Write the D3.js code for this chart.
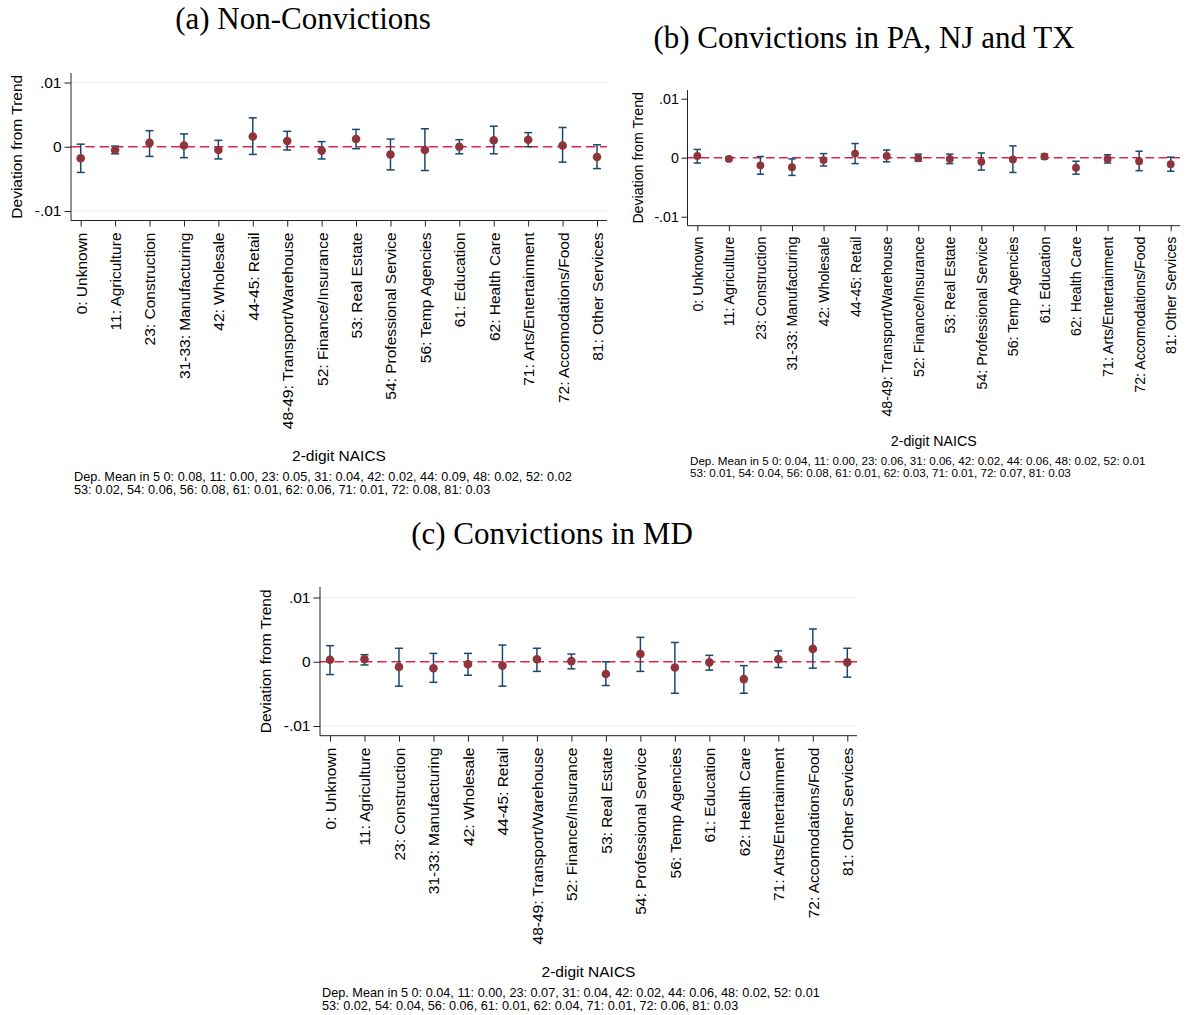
<!DOCTYPE html>
<html>
<head>
<meta charset="utf-8">
<script src="https://cdn.jsdelivr.net/npm/d3@7"></script>
<style>
  html, body { margin: 0; padding: 0; background: #fff; }
  svg { display: block; }
  text { font-family: "Liberation Sans", Arial, sans-serif; fill: #000; }
  .title { font-family: "Liberation Serif", "Times New Roman", serif; }
</style>
</head>
<body>
<svg id="chart" width="1189" height="1015"></svg>
<script>
// Industry categories (2-digit NAICS)
const categories = [
  "0: Unknown", "11: Agriculture", "23: Construction", "31-33: Manufacturing",
  "42: Wholesale", "44-45: Retail", "48-49: Transport/Warehouse", "52: Finance/Insurance",
  "53: Real Estate", "54: Professional Service", "56: Temp Agencies", "61: Education",
  "62: Health Care", "71: Arts/Entertainment", "72: Accomodations/Food", "81: Other Services"
];
const naicsCodes = ["0", "11", "23", "31", "42", "44", "48", "52", "53", "54", "56", "61", "62", "71", "72", "81"];

// Y-axis ticks
const yTickValues = [-0.01, 0, 0.01];
const yTickLabels = ["-.01", "0", ".01"];

// (a) Non-Convictions: estimates and 95% CI bounds
const coefA = [-0.0018, -0.0005, 0.0006, 0.0002, -0.0005, 0.0016, 0.0009, -0.0006, 0.0012, -0.0012, -0.0005, 0.0000, 0.0010, 0.0011, 0.0002, -0.0016];
const loA   = [-0.0040, -0.0011, -0.0015, -0.0017, -0.0019, -0.0012, -0.0005, -0.0019, -0.0003, -0.0036, -0.0037, -0.0011, -0.0011, 0.0000, -0.0024, -0.0034];
const hiA   = [0.0004, 0.0001, 0.0025, 0.0020, 0.0010, 0.0045, 0.0024, 0.0008, 0.0027, 0.0012, 0.0028, 0.0011, 0.0032, 0.0022, 0.0030, 0.0003];
const meanA = ["0.08", "0.00", "0.05", "0.04", "0.02", "0.09", "0.02", "0.02", "0.02", "0.06", "0.08", "0.01", "0.06", "0.01", "0.08", "0.03"];

// (b) Convictions in PA, NJ and TX
const coefB = [0.0003, -0.0002, -0.0013, -0.0016, -0.0004, 0.0007, 0.0003, -0.0001, -0.0002, -0.0007, -0.0003, 0.0002, -0.0017, -0.0002, -0.0006, -0.0011];
const loB   = [-0.0009, -0.0004, -0.0028, -0.0030, -0.0014, -0.0010, -0.0007, -0.0006, -0.0010, -0.0021, -0.0025, -0.0002, -0.0028, -0.0009, -0.0022, -0.0023];
const hiB   = [0.0014, 0.0001, 0.0002, -0.0002, 0.0007, 0.0024, 0.0013, 0.0006, 0.0006, 0.0008, 0.0020, 0.0006, -0.0006, 0.0005, 0.0011, 0.0001];
const meanB = ["0.04", "0.00", "0.06", "0.06", "0.02", "0.06", "0.02", "0.01", "0.01", "0.04", "0.08", "0.01", "0.03", "0.01", "0.07", "0.03"];

// (c) Convictions in MD
const coefC = [0.0003, 0.0004, -0.0008, -0.0010, -0.0004, -0.0006, 0.0004, 0.0001, -0.0019, 0.0012, -0.0009, -0.0001, -0.0027, 0.0004, 0.0020, -0.0001];
const loC   = [-0.0020, -0.0005, -0.0038, -0.0032, -0.0021, -0.0038, -0.0015, -0.0011, -0.0037, -0.0015, -0.0049, -0.0013, -0.0049, -0.0009, -0.0010, -0.0024];
const hiC   = [0.0025, 0.0011, 0.0021, 0.0013, 0.0013, 0.0026, 0.0021, 0.0012, 0.0000, 0.0038, 0.0030, 0.0010, -0.0006, 0.0017, 0.0051, 0.0021];
const meanC = ["0.04", "0.00", "0.07", "0.04", "0.02", "0.06", "0.02", "0.01", "0.02", "0.04", "0.06", "0.01", "0.04", "0.01", "0.06", "0.03"];

const COLORS = {
  point: "#8f343b",
  bar: "#1a476f",
  zero: "#d9264a",
  grid: "#e6eff2",
  axis: "#222"
};

const svg = d3.select("#chart");

function drawPanel(cfg, coef, lo, hi, means) {
  const s = cfg.scale;
  const g = svg.append("g");

  const x = d3.scalePoint().domain(categories).range([cfg.firstTick, cfg.lastTick]);
  const y = d3.scaleLinear().domain([-0.01, 0.01]).range([cfg.yNeg, cfg.yPos]);

  // title
  g.append("text")
    .attr("class", "title")
    .attr("x", cfg.titleX).attr("y", cfg.titleY)
    .attr("text-anchor", "middle")
    .style("font-size", cfg.titleSize + "px")
    .text(cfg.title);

  // gridlines
  if (cfg.grid) {
    g.selectAll("line.grid").data([-0.01, 0.01]).join("line")
      .attr("class", "grid")
      .attr("x1", cfg.left).attr("x2", cfg.right)
      .attr("y1", d => y(d)).attr("y2", d => y(d))
      .attr("stroke", COLORS.grid).attr("stroke-width", 1.2);
  }

  // zero reference line
  g.append("line")
    .attr("x1", cfg.left).attr("x2", cfg.right)
    .attr("y1", y(0)).attr("y2", y(0))
    .attr("stroke", COLORS.zero).attr("stroke-width", 1.6)
    .attr("stroke-dasharray", `${9.5 * s},${4.8 * s}`);

  // y axis
  const yAxis = d3.axisLeft(y)
    .tickValues(yTickValues)
    .tickFormat((d, i) => yTickLabels[i])
    .tickSize(6.5 * s).tickPadding(3 * s);
  const ya = g.append("g").attr("transform", `translate(${cfg.left},0)`).call(yAxis);
  ya.select(".domain").remove();
  ya.selectAll(".tick line").attr("stroke", COLORS.axis);
  ya.selectAll(".tick text").style("font-size", (15.5 * s) + "px")
    .style("font-family", '"Liberation Sans", Arial, sans-serif').attr("fill", "#000");
  g.append("line")
    .attr("x1", cfg.left).attr("x2", cfg.left)
    .attr("y1", cfg.top).attr("y2", cfg.bottom)
    .attr("stroke", COLORS.axis).attr("stroke-width", 1);

  // y axis title
  g.append("text")
    .attr("transform", `translate(${cfg.yTitleX},${(cfg.top + cfg.bottom) / 2}) rotate(-90)`)
    .attr("text-anchor", "middle")
    .attr("dy", "0.35em")
    .style("font-size", (15.5 * s) + "px")
    .text("Deviation from Trend");

  // x axis
  const xAxis = d3.axisBottom(x).tickSize(6 * s);
  const xa = g.append("g").attr("transform", `translate(0,${cfg.bottom})`).call(xAxis);
  xa.select(".domain").remove();
  xa.selectAll(".tick line").attr("stroke", COLORS.axis);
  xa.selectAll(".tick text")
    .attr("transform", "rotate(-90)")
    .attr("text-anchor", "end")
    .attr("x", -12 * s).attr("y", 0).attr("dy", "0.35em")
    .style("font-size", (15.5 * s) + "px")
    .style("font-family", '"Liberation Sans", Arial, sans-serif')
    .attr("fill", "#000");
  g.append("line")
    .attr("x1", cfg.left).attr("x2", cfg.right)
    .attr("y1", cfg.bottom).attr("y2", cfg.bottom)
    .attr("stroke", COLORS.axis).attr("stroke-width", 1);

  // x axis title
  g.append("text")
    .attr("x", (cfg.left + cfg.right) / 2).attr("y", cfg.xTitleY)
    .attr("text-anchor", "middle")
    .style("font-size", (15.5 * s) + "px")
    .text("2-digit NAICS");

  // note with dependent-variable means
  const pairs = naicsCodes.map((c, i) => `${c}: ${means[i]}`);
  const lines = ["Dep. Mean in 5 " + pairs.slice(0, 8).join(", "), pairs.slice(8).join(", ")];
  g.selectAll("text.note").data(lines).join("text")
    .attr("class", "note")
    .attr("x", cfg.noteX)
    .attr("y", (d, i) => cfg.noteY + i * 13 * s)
    .style("font-size", (12.7 * s) + "px")
    .text(d => d);

  // confidence intervals
  const cap = 4 * s;
  const bars = g.selectAll("g.ci").data(categories).join("g").attr("class", "ci");
  bars.append("line")
    .attr("x1", d => x(d)).attr("x2", d => x(d))
    .attr("y1", (d, i) => y(lo[i])).attr("y2", (d, i) => y(hi[i]))
    .attr("stroke", COLORS.bar).attr("stroke-width", 1.5);
  bars.append("line")
    .attr("x1", d => x(d) - cap).attr("x2", d => x(d) + cap)
    .attr("y1", (d, i) => y(lo[i])).attr("y2", (d, i) => y(lo[i]))
    .attr("stroke", COLORS.bar).attr("stroke-width", 1.5);
  bars.append("line")
    .attr("x1", d => x(d) - cap).attr("x2", d => x(d) + cap)
    .attr("y1", (d, i) => y(hi[i])).attr("y2", (d, i) => y(hi[i]))
    .attr("stroke", COLORS.bar).attr("stroke-width", 1.5);

  // point estimates
  g.selectAll("circle.pt").data(categories).join("circle")
    .attr("class", "pt")
    .attr("cx", d => x(d))
    .attr("cy", (d, i) => y(coef[i]))
    .attr("r", 4.3 * s)
    .attr("fill", COLORS.point);
}

drawPanel({
  title: "(a) Non-Convictions", titleX: 303, titleY: 29, titleSize: 31,
  left: 71, right: 607, top: 73, bottom: 220.5,
  firstTick: 80.7, lastTick: 597, yPos: 82.5, yNeg: 211,
  yTitleX: 17, xTitleY: 461, noteX: 74, noteY: 481, scale: 1, grid: true
}, coefA, loA, hiA, meanA);

drawPanel({
  title: "(b) Convictions in PA, NJ and TX", titleX: 864, titleY: 48, titleSize: 31,
  left: 687.5, right: 1180, top: 90, bottom: 225.7,
  firstTick: 697.3, lastTick: 1170.7, yPos: 98.7, yNeg: 216.7,
  yTitleX: 638, xTitleY: 446, noteX: 690, noteY: 465, scale: 0.915, grid: false
}, coefB, loB, hiB, meanB);

drawPanel({
  title: "(c) Convictions in MD", titleX: 552, titleY: 544, titleSize: 31,
  left: 320, right: 857, top: 587, bottom: 735.7,
  firstTick: 330, lastTick: 847.3, yPos: 597.5, yNeg: 726,
  yTitleX: 266, xTitleY: 977, noteX: 322, noteY: 997, scale: 1, grid: true
}, coefC, loC, hiC, meanC);
</script>
</body>
</html>
